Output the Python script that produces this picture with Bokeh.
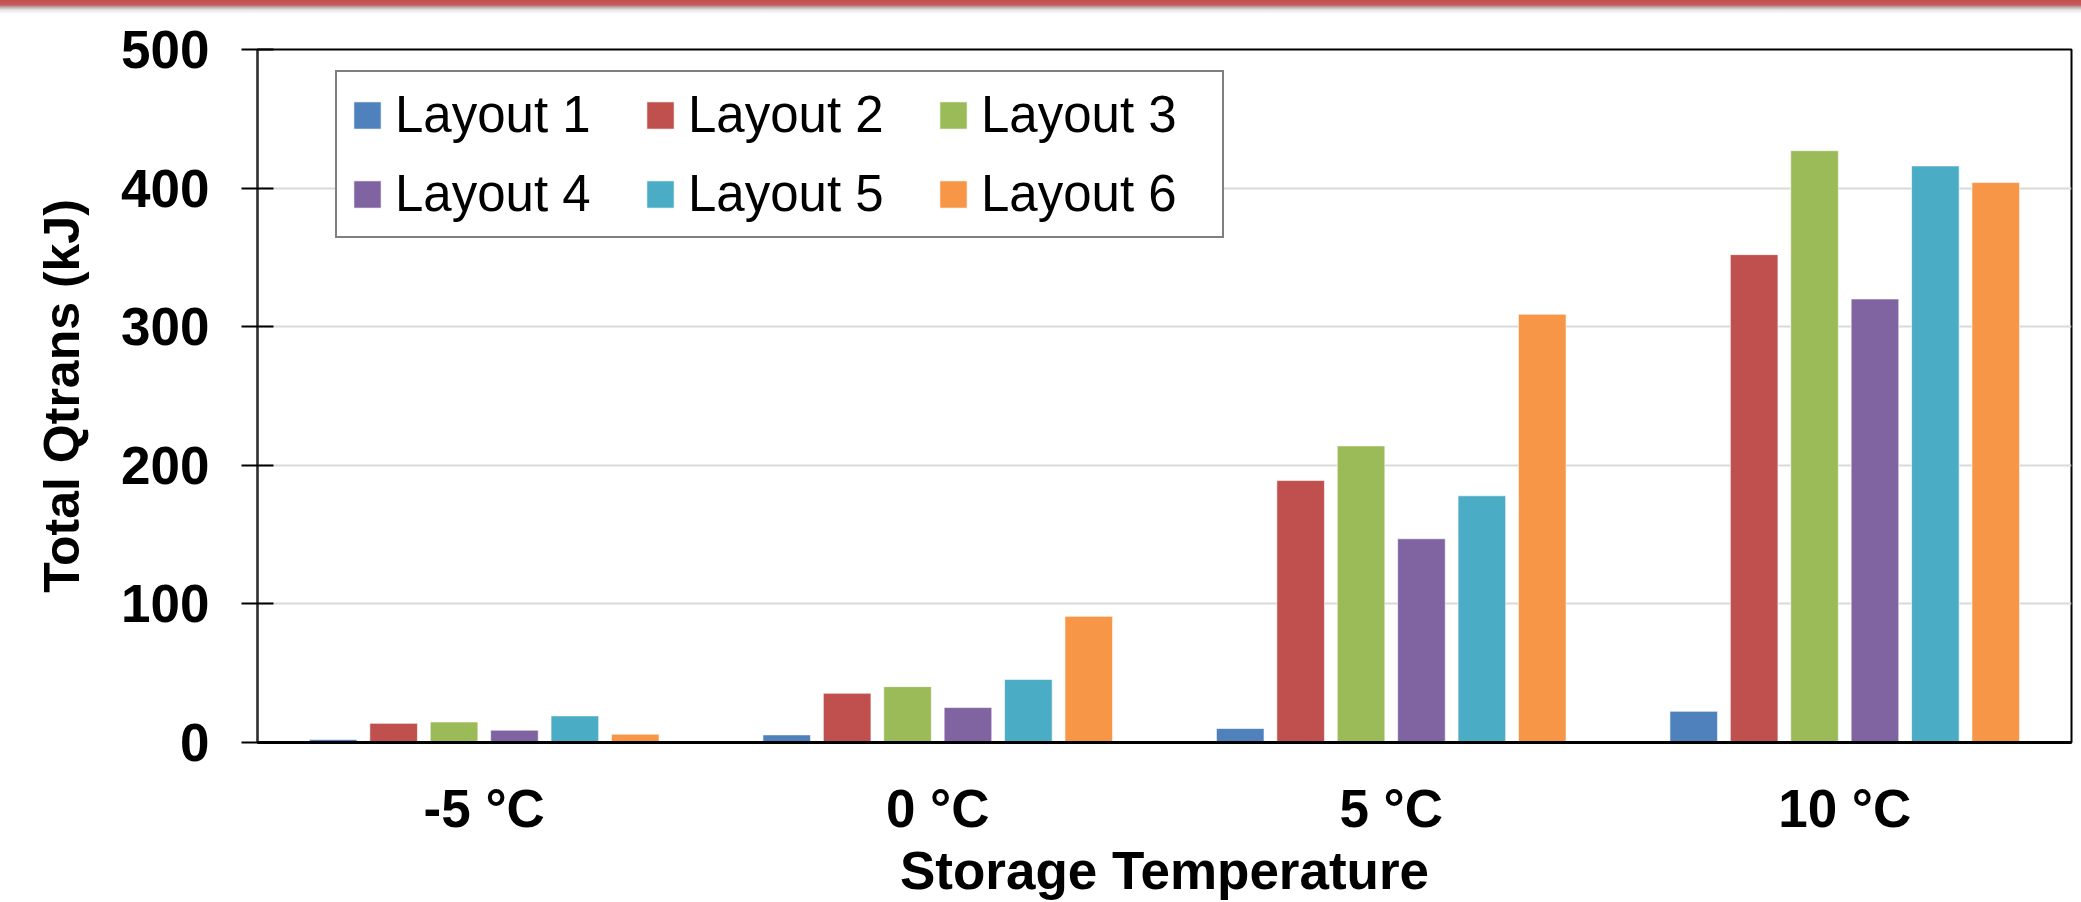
from bokeh.plotting import figure
from bokeh.models import (FactorRange, Range1d, ColumnDataSource, Legend, LegendItem,
                          FixedTicker, Div)
from bokeh.layouts import column
from bokeh.transform import dodge
from bokeh.embed import file_html
from bokeh.resources import INLINE

categories = ["-5 °C", "0 °C", "5 °C", "10 °C"]
series_names = ["Layout 1", "Layout 2", "Layout 3", "Layout 4", "Layout 5", "Layout 6"]
layout1 = [2.2, 5.5, 10.1, 22.5]
layout2 = [13.8, 35.5, 189, 352]
layout3 = [14.8, 40.3, 214, 427]
layout4 = [8.9, 25.2, 147, 320]
layout5 = [19.2, 45.5, 178, 416]
layout6 = [6.0, 91, 309, 404]
y_ticks = [0, 100, 200, 300, 400, 500]
colors = ["#4F81BD", "#C0504D", "#9BBB59", "#8064A2", "#4BACC6", "#F79646"]

series = [layout1, layout2, layout3, layout4, layout5, layout6]
data = {"cat": categories}
keys = []
for i, s in enumerate(series):
    k = f"l{i+1}"
    data[k] = s
    keys.append(k)
src = ColumnDataSource(data)

FONT = "Liberation Sans"
BAND = 14

p = figure(x_range=FactorRange(*categories), y_range=Range1d(0, 500),
           width=2081, height=902 - BAND, output_backend="svg", toolbar_location=None,
           min_border_left=257, min_border_right=10, min_border_top=49 - BAND,
           min_border_bottom=158, margin=0)
p.x_range.range_padding = 0

pitch = 0.1332
bw = 0.105
renderers = []
for i, (k, c) in enumerate(zip(keys, colors)):
    r = p.vbar(x=dodge("cat", (i - 2.5) * pitch, range=p.x_range), top=k, width=bw,
               bottom=0, source=src, fill_color=c, line_color="white", line_alpha=0.6,
               line_width=1)
    renderers.append(r)

items = [LegendItem(label=n, renderers=[r]) for n, r in zip(series_names, renderers)]
legend = Legend(items=items, orientation="horizontal", ncols=3,
                location=(78, 504), padding=13, spacing=20,
                glyph_width=34, glyph_height=34, label_standoff=11, label_width=228,
                label_text_font=FONT, label_text_font_size="51px", label_text_color="black",
                border_line_color="black", border_line_width=2, background_fill_alpha=1,
                margin=0)
p.add_layout(legend, "center")

p.outline_line_color = "black"
p.outline_line_width = 2
p.xgrid.grid_line_color = None
p.ygrid.grid_line_color = "#d9d9d9"
p.ygrid.grid_line_width = 2

p.yaxis.ticker = FixedTicker(ticks=y_ticks)
p.yaxis.minor_tick_line_color = None
p.yaxis.major_tick_in = 16
p.yaxis.major_tick_out = 16
p.yaxis.major_tick_line_color = "black"
p.yaxis.major_tick_line_width = 2
p.yaxis.axis_line_color = "#303030"
p.yaxis.axis_line_width = 2
p.yaxis.major_label_standoff = 32
p.yaxis.major_label_text_font = FONT
p.yaxis.major_label_text_font_style = "bold"
p.yaxis.major_label_text_font_size = "53px"
p.yaxis.major_label_text_color = "black"
p.yaxis.axis_label = "Total Qtrans (kJ)"
p.yaxis.axis_label_text_font = FONT
p.yaxis.axis_label_text_font_style = "bold"
p.yaxis.axis_label_text_font_size = "50px"
p.yaxis.axis_label_text_color = "black"
p.yaxis.axis_label_standoff = 28

p.xaxis.major_tick_line_color = None
p.xaxis.minor_tick_line_color = None
p.xaxis.axis_line_color = "black"
p.xaxis.axis_line_width = 3
p.xaxis.major_label_standoff = 30
p.xaxis.major_label_text_font = FONT
p.xaxis.major_label_text_font_style = "bold"
p.xaxis.major_label_text_font_size = "53px"
p.xaxis.major_label_text_color = "black"
p.xaxis.axis_label = "Storage Temperature"
p.xaxis.axis_label_text_font = FONT
p.xaxis.axis_label_text_font_style = "bold"
p.xaxis.axis_label_text_font_size = "53px"
p.xaxis.axis_label_text_color = "black"
p.xaxis.axis_label_standoff = 0

# decorative top band of the slide
band = Div(text="", width=2081, height=BAND, margin=0,
           styles={"background": "linear-gradient(to bottom, #C0504D 0px, #C85A5A 5px, "
                                 "#b9a9a9 7px, #e6e6e6 10px, #ffffff 14px)"})

layout = column(band, p, spacing=0, margin=0)
open("out.html", "w").write(file_html(layout, INLINE))
